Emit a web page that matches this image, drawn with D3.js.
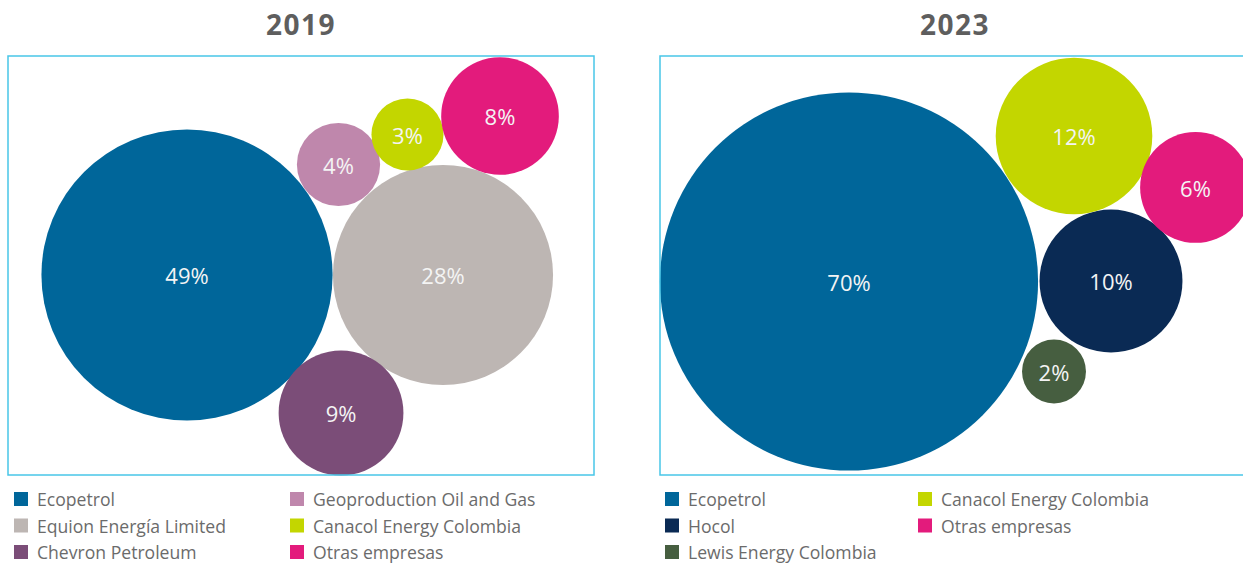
<!DOCTYPE html>
<html>
<head>
<meta charset="utf-8">
<script src="https://cdn.jsdelivr.net/npm/d3@7"></script>
<style>
  html, body { margin: 0; padding: 0; background: #ffffff; }
  svg { display: block; }
</style>
</head>
<body>
<svg id="chart" width="1243" height="565"></svg>
<script>
// ---------- DATA ----------
const years = ["2019", "2023"];

const companies2019 = ["Ecopetrol", "Equion Energía Limited", "Chevron Petroleum", "Geoproduction Oil and Gas", "Canacol Energy Colombia", "Otras empresas"];
const shares2019 = [49, 28, 9, 4, 3, 8];
// bubble layout positions (percent of panel width / height)
const layoutX2019 = [30.55, 74.23, 56.83, 56.40, 68.17, 83.96];
const layoutY2019 = [52.27, 52.27, 85.20, 25.89, 18.74, 14.32];

const companies2023 = ["Ecopetrol", "Hocol", "Lewis Energy Colombia", "Canacol Energy Colombia", "Otras empresas"];
const shares2023 = [70, 10, 2, 12, 6];
const layoutX2023 = [32.03, 76.44, 66.78, 70.17, 90.76];
const layoutY2023 = [53.82, 53.70, 75.30, 19.09, 31.38];

const companyColors = {
  "Ecopetrol": "#00669a",
  "Equion Energía Limited": "#bdb6b3",
  "Chevron Petroleum": "#7b4d78",
  "Geoproduction Oil and Gas": "#bf87ac",
  "Canacol Energy Colombia": "#c3d600",
  "Otras empresas": "#e31b7c",
  "Hocol": "#0a2a54",
  "Lewis Energy Colombia": "#465e40"
};

// ---------- LAYOUT ----------
const svg = d3.select("#chart");
const fontFamily = "'Open Sans', 'Noto Sans', sans-serif";

const panels = [
  { year: years[0], names: companies2019, values: shares2019, lx: layoutX2019, ly: layoutY2019,
    box: { x0: 8, x1: 594, y0: 56, y1: 475 }, rMax: 208, legendCols: [6, 282] },
  { year: years[1], names: companies2023, values: shares2023, lx: layoutX2023, ly: layoutY2023,
    box: { x0: 660, x1: 1250, y0: 56, y1: 475 }, rMax: 226, legendCols: [5, 258] }
];

panels.forEach(p => {
  const g = svg.append("g");
  const x = d3.scaleLinear().domain([0, 100]).range([p.box.x0, p.box.x1]);
  const y = d3.scaleLinear().domain([0, 100]).range([p.box.y0, p.box.y1]);
  const r = d3.scaleSqrt().domain([0, 100]).range([0, p.rMax]);

  // title
  g.append("text")
    .attr("x", (p.box.x0 + p.box.x1) / 2)
    .attr("y", 35)
    .attr("text-anchor", "middle")
    .attr("font-family", fontFamily)
    .attr("font-weight", 700)
    .attr("font-size", 28)
    .attr("letter-spacing", 1.5)
    .attr("fill", "#5e5e5e")
    .text(p.year);

  // bubbles
  const data = p.names.map((n, i) => ({ name: n, value: p.values[i], px: p.lx[i], py: p.ly[i] }));
  const bubbles = g.selectAll("g.bubble").data(data).join("g").attr("class", "bubble");
  bubbles.append("circle")
    .attr("cx", d => x(d.px))
    .attr("cy", d => y(d.py))
    .attr("r", d => r(d.value))
    .attr("fill", d => companyColors[d.name]);
  bubbles.append("text")
    .attr("x", d => x(d.px))
    .attr("y", d => y(d.py))
    .attr("dy", "0.42em")
    .attr("text-anchor", "middle")
    .attr("font-family", fontFamily)
    .attr("font-size", 22)
    .attr("fill", "#f4f4f4")
    .text(d => d.value + "%");

  // frame
  g.append("rect")
    .attr("x", p.box.x0)
    .attr("y", p.box.y0)
    .attr("width", p.box.x1 - p.box.x0)
    .attr("height", p.box.y1 - p.box.y0)
    .attr("fill", "none")
    .attr("stroke", "#48c6e8")
    .attr("stroke-width", 1.5);

  // legend (column-major, 3 rows)
  const rowY = d3.scalePoint().domain([0, 1, 2]).range([492, 545]);
  const leg = g.selectAll("g.leg").data(data).join("g").attr("class", "leg")
    .attr("transform", (d, i) => `translate(${p.box.x0 + p.legendCols[Math.floor(i / 3)]},${rowY(i % 3)})`);
  leg.append("rect")
    .attr("width", 14).attr("height", 14)
    .attr("fill", d => companyColors[d.name]);
  leg.append("text")
    .attr("x", 23)
    .attr("y", 14)
    .attr("font-family", fontFamily)
    .attr("font-size", 17.6)
    .attr("fill", "#6b6b6b")
    .text(d => d.name);
});
</script>
</body>
</html>
